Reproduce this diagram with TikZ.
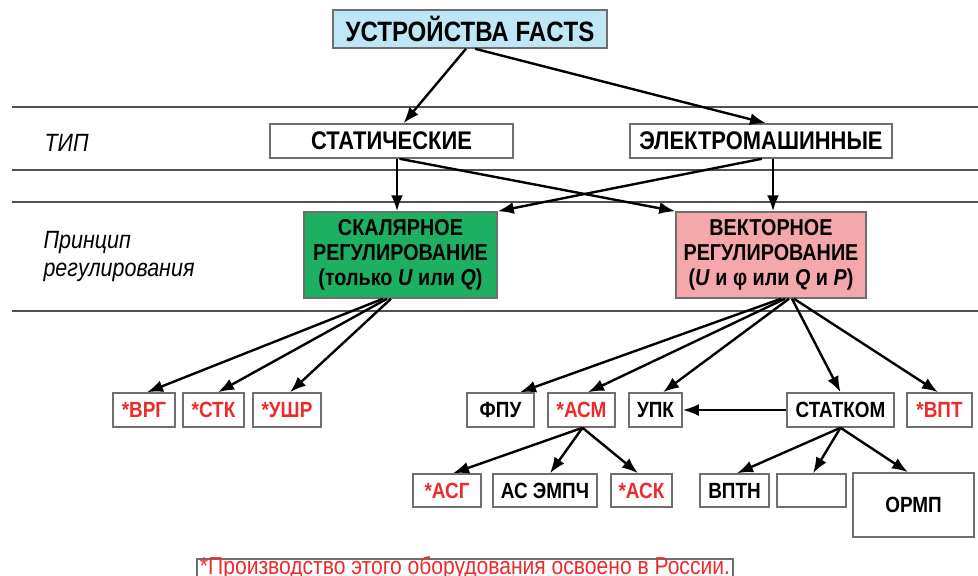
\documentclass[tikz,border=0pt]{standalone}
\usepackage{fontspec}
\setmainfont{Liberation Sans}[FakeStretch = 0.86]
\usepackage{xcolor}
\usetikzlibrary{arrows.meta, positioning}
\definecolor{factsblue}{HTML}{BFE6F6}
\definecolor{scalgreen}{HTML}{1DB063}
\definecolor{vectpink}{HTML}{F5A8AB}
\definecolor{boxgray}{HTML}{6E6E6E}
\definecolor{madered}{HTML}{EE2A2A}
\definecolor{rulegray}{HTML}{505050}
\tikzset{> = { Latex[length = 16pt, width = 12pt] }}
\tikzset{
	box/.style = {draw = boxgray, line width = 1.5pt, rectangle, inner sep = 0pt, minimum height = 34pt, font = \fontsize{22}{26}\selectfont\bfseries},
	madebox/.style = {box, text = madered},
	typebox/.style = {box, fill = white, font = \fontsize{25.5}{28}\selectfont\bfseries},
	bigbox/.style = {box, minimum height = 86pt, align = center, font = \fontsize{23}{25}\selectfont\bfseries},
	link/.style = {->, line width = 2.4pt},
	rowrule/.style = {draw = rulegray, line width = 1.5pt},
	level/.style = {anchor = west, align = left, font = \fontsize{25}{28}\selectfont\itshape}
}

\begin{document}
\begin{tikzpicture}[x = 1pt, y = -1pt]
		\useasboundingbox (0, 0) rectangle (978, 576);
		\clip (0, 0) rectangle (978, 576);

		\draw [rowrule] (12, 107) -- (978, 107);
		\draw [rowrule] (12, 170) -- (978, 170);
		\draw [rowrule] (12, 202) -- (978, 202);
		\draw [rowrule] (12, 311) -- (978, 311);

		\node [level] (tip) at (41, 143) {ТИП};
		\node [level] (princip) at (40, 256) {Принцип\\регулирования};

		\node [box, fill = factsblue, minimum width = 274pt, minimum height = 38pt, font = \fontsize{28}{30}\selectfont\bfseries] (facts) at (470, 29) {УСТРОЙСТВА FACTS};
		\node [typebox, minimum width = 243pt] (stat) at (391.5, 141) {СТАТИЧЕСКИЕ};
		\node [typebox, minimum width = 262pt] (elec) at (761, 141) {ЭЛЕКТРОМАШИННЫЕ};
		\node [bigbox, fill = scalgreen, minimum width = 193pt] (scal) at (400.5, 255) {СКАЛЯРНОЕ\\РЕГУЛИРОВАНИЕ\\(только \textit{U} или \textit{Q})};
		\node [bigbox, fill = vectpink, minimum width = 190pt] (vect) at (771, 255) {ВЕКТОРНОЕ\\РЕГУЛИРОВАНИЕ\\(\textit{U} и φ или \textit{Q} и \textit{P})};

		\node [madebox, minimum width = 62pt] (vrg) at (144, 410) {*ВРГ};
		\node [madebox, minimum width = 61pt] (stk) at (213.5, 410) {*СТК};
		\node [madebox, minimum width = 68pt] (ushr) at (287, 410) {*УШР};
		\node [box, minimum width = 67pt] (fpu) at (500.5, 410) {ФПУ};
		\node [madebox, minimum width = 67pt] (asm) at (581.5, 410) {*АСМ};
		\node [box, minimum width = 53pt] (upk) at (655.5, 410) {УПК};
		\node [box, minimum width = 107pt] (statcom) at (840.5, 410) {СТАТКОМ};
		\node [madebox, minimum width = 65pt] (vpt) at (939.5, 410) {*ВПТ};

		\node [madebox, minimum width = 68pt, minimum height = 33pt] (asg) at (447, 490.5) {*АСГ};
		\node [box, minimum width = 104pt, minimum height = 33pt] (asemp) at (545, 490.5) {АС ЭМПЧ};
		\node [madebox, minimum width = 61pt, minimum height = 33pt] (ask) at (641.5, 490.5) {*АСК};
		\node [box, minimum width = 69pt, minimum height = 33pt] (vptn) at (734.5, 490.5) {ВПТН};
		\node [box, minimum width = 69pt, minimum height = 33pt] (blank) at (811.5, 490.5) {};
		\node [box, minimum width = 121pt, minimum height = 64pt] (ormp) at (913.5, 505) {ОРМП};

		\node [draw = boxgray, line width = 1.2pt, inner sep = 0pt, anchor = base, text height = 15pt, text depth = 3pt, minimum width = 536pt, text = madered, font = \fontsize{24.5}{26}\selectfont] (note) at (465, 574) {*Производство этого оборудования освоено в России.};

		\draw [link] ([xshift = -4pt]facts.south) -- ([xshift = 12pt]stat.north);
		\draw [link] ([xshift = 5pt]facts.south) -- ([xshift = 5pt]elec.north);
		\draw [link] ([xshift = 5.5pt]stat.south) -- ([xshift = -3.5pt]scal.north);
		\draw [link] ([xshift = 8pt]stat.south) -- (vect.north west);
		\draw [link] ([xshift = 1pt]elec.south) -- (scal.north east);
		\draw [link] ([xshift = 12pt]elec.south) -- ([xshift = 2pt]vect.north);

		\draw [link] ([xshift = -17.5pt]scal.south) -- ([xshift = 3pt]vrg.north);
		\draw [link] ([xshift = -13.5pt]scal.south) -- ([xshift = 4.5pt]stk.north);
		\draw [link] ([xshift = -9.5pt]scal.south) -- ([xshift = 3pt]ushr.north);

		\draw [link] ([xshift = 10pt]vect.south) -- ([xshift = 19.5pt]fpu.north);
		\draw [link] ([xshift = 14pt]vect.south) -- ([xshift = 6.5pt]asm.north);
		\draw [link] ([xshift = 18pt]vect.south) -- ([xshift = 7.5pt]upk.north);
		\draw [link] ([xshift = 21pt]vect.south) -- (statcom.north);
		\draw [link] ([xshift = 23pt]vect.south) -- ([xshift = -1.5pt]vpt.north);

		\draw [link] (statcom.west) -- (upk.east);

		\draw [link] ([xshift = 1pt]asm.south) -- ([xshift = 6pt]asg.north);
		\draw [link] ([xshift = 1pt]asm.south) -- ([xshift = 5pt]asemp.north);
		\draw [link] ([xshift = 1pt]asm.south) -- ([xshift = -3.5pt]ask.north);

		\draw [link] (statcom.south) -- ([xshift = 2.5pt]vptn.north);
		\draw [link] (statcom.south) -- ([xshift = 1.5pt]blank.north);
		\draw [link] (statcom.south) -- ([xshift = -5.5pt]ormp.north);
	\end{tikzpicture}
\end{document}
